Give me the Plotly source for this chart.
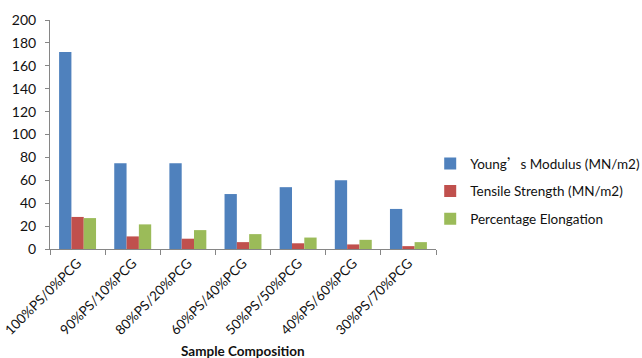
import plotly.graph_objects as go

categories = ["100%PS/0%PCG", "90%PS/10%PCG", "80%PS/20%PCG", "60%PS/40%PCG",
              "50%PS/50%PCG", "40%PS/60%PCG", "30%PS/70%PCG"]
youngs_modulus = [172, 75, 75, 48, 54, 60, 35]
tensile_strength = [28, 11, 9, 6, 5, 4, 2.5]
percentage_elongation = [27, 21.5, 16.5, 13, 10, 8, 6]

series_names = ["Young<span style=\"font-family:'Noto Sans CJK SC'\">’</span>s Modulus (MN/m2)",
                "Tensile Strength (MN/m2)", "Percentage Elongation"]
colors = ["#4F81BD", "#C0504D", "#9BBB59"]

font_family = "Lato, 'Open Sans', sans-serif"

fig = go.Figure()
for i, (name, vals) in enumerate(zip(series_names, [youngs_modulus, tensile_strength, percentage_elongation])):
    fig.add_trace(go.Bar(x=categories, y=vals, name=name, marker_color=colors[i],
                         marker_line_width=0, legendgroup=str(i)))

fig.update_layout(
    width=642, height=358,
    margin=dict(l=50, r=206, t=20, b=109, autoexpand=False),
    paper_bgcolor="white", plot_bgcolor="white",
    barmode="group", bargap=0.33, bargroupgap=0,
    font=dict(family=font_family, size=13, color="#111111"),
    showlegend=True,
    legend=dict(x=0.985, y=0.252, xanchor="left", yanchor="middle",
                font=dict(size=13.5), tracegroupgap=7, traceorder="grouped",
                itemwidth=30, bgcolor="rgba(0,0,0,0)"),
)
fig.update_yaxes(range=[0, 200], dtick=20, showgrid=False, showline=True,
                 linecolor="#868686", linewidth=1, ticks="outside", ticklen=4,
                 tickcolor="#868686", zeroline=False, tickfont=dict(size=14),
                 automargin=False, ticklabelstandoff=6)
fig.update_xaxes(showline=True, linecolor="#868686", linewidth=1, ticks="outside",
                 ticklen=5, tickcolor="#868686", tickson="boundaries",
                 tickangle=-45, tickfont=dict(size=13.5), showgrid=False,
                 automargin=False)
fig.add_annotation(text="<b>Sample Composition</b>", x=0.501, y=-0.445,
                   xref="paper", yref="paper", showarrow=False,
                   xanchor="center", yanchor="middle", font=dict(size=13.5))
fig.write_html("out.html")
